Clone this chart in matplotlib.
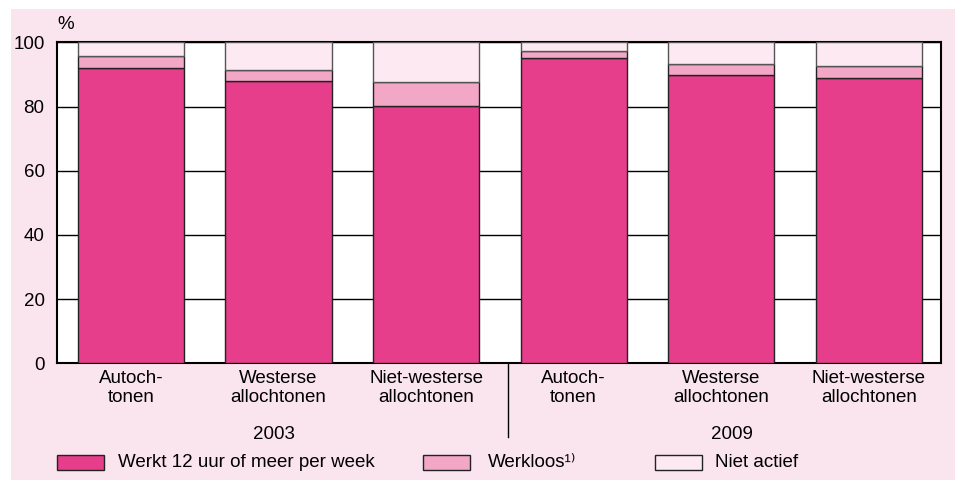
import numpy as np
import matplotlib
matplotlib.use("Agg")
import matplotlib.pyplot as plt
from matplotlib.patches import Rectangle

plt.rcParams['font.family'] = ['Liberation Sans', 'DejaVu Sans']
fs = 13.5
plt.rcParams['font.size'] = fs

# data (percentages)
groups = ["Autoch-\ntonen", "Westerse\nallochtonen", "Niet-westerse\nallochtonen",
          "Autoch-\ntonen", "Westerse\nallochtonen", "Niet-westerse\nallochtonen"]
years = ["2003", "2009"]
werkt = [92.1, 88.0, 80.1, 95.0, 89.9, 88.8]
werkloos = [3.7, 3.5, 7.6, 2.4, 3.4, 3.9]
niet_actief = [100 - a - b for a, b in zip(werkt, werkloos)]
series_names = ["Werkt 12 uur of meer per week", "Werkloos\u00b9\u207e", "Niet actief"]
yticks = [0, 20, 40, 60, 80, 100]

c_werkt = '#E63E8A'
c_werkloos = '#F2A7C6'
c_niet = '#FCE9F1'
c_bg = '#FAE4EE'
W, H = 955, 480

fig = plt.figure(figsize=(9.55, 4.8), dpi=100, facecolor='white')
# pink panel
fig.add_artist(Rectangle((11 / W, 0), 1 - 11 / W, (H - 9) / H, transform=fig.transFigure,
                         facecolor=c_bg, edgecolor='none', zorder=-10))

ax = fig.add_axes([57 / W, 1 - 363.3 / H, (941 - 57) / W, (363.3 - 42.3) / H])
ax.set_facecolor('white')

x = np.arange(len(groups))
bw = 0.72
ax.bar(x, werkt, bw, color=c_werkt, edgecolor='#222222', linewidth=1.0, zorder=3)
ax.bar(x, werkloos, bw, bottom=werkt, color=c_werkloos, edgecolor='#222222', linewidth=1.0, zorder=3)
bot2 = [a + b for a, b in zip(werkt, werkloos)]
ax.bar(x, niet_actief, bw, bottom=bot2, color=c_niet, edgecolor='#555555', linewidth=1.0, zorder=3)

ax.set_xlim(-0.502, 5.49)
ax.set_ylim(0, 100)
ax.set_yticks(yticks)
ax.yaxis.grid(True, color='black', linewidth=1.0, zorder=0)
ax.set_axisbelow(True)
ax.tick_params(axis='y', length=0, pad=9, labelsize=fs)
ax.set_xticks(x)
ax.set_xticklabels(groups, linespacing=1.12)
ax.tick_params(axis='x', length=0, pad=5, labelsize=fs)
for s in ax.spines.values():
    s.set_linewidth(1.5)
    s.set_color('black')

ax.text(0.0, 1.055, "%", transform=ax.transAxes, ha='left', va='center', fontsize=fs)

# year labels and separator
trans = ax.get_xaxis_transform()
ax.text(0.97, -0.223, years[0], transform=trans, ha='center', va='center', fontsize=fs)
ax.text(4.07, -0.223, years[1], transform=trans, ha='center', va='center', fontsize=fs)
ax.plot([2.556, 2.556], [0, -0.2296], transform=trans, color='black', linewidth=1.0, clip_on=False)

# legend drawn by hand
leg_y0, leg_y1 = (H - 470) / H, (H - 455) / H
patch_x = [57, 423, 655]
text_x = [118, 488, 715]
cols = [c_werkt, c_werkloos, c_niet]
for px, tx, col, name in zip(patch_x, text_x, cols, series_names):
    fig.add_artist(Rectangle((px / W, leg_y0), 47 / W, leg_y1 - leg_y0, transform=fig.transFigure,
                             facecolor=col, edgecolor='#222222', linewidth=1.0))
    fig.text(tx / W, (leg_y0 + leg_y1) / 2, name, ha='left', va='center', fontsize=fs)

fig.savefig("out.png", dpi=100, facecolor=fig.get_facecolor())
